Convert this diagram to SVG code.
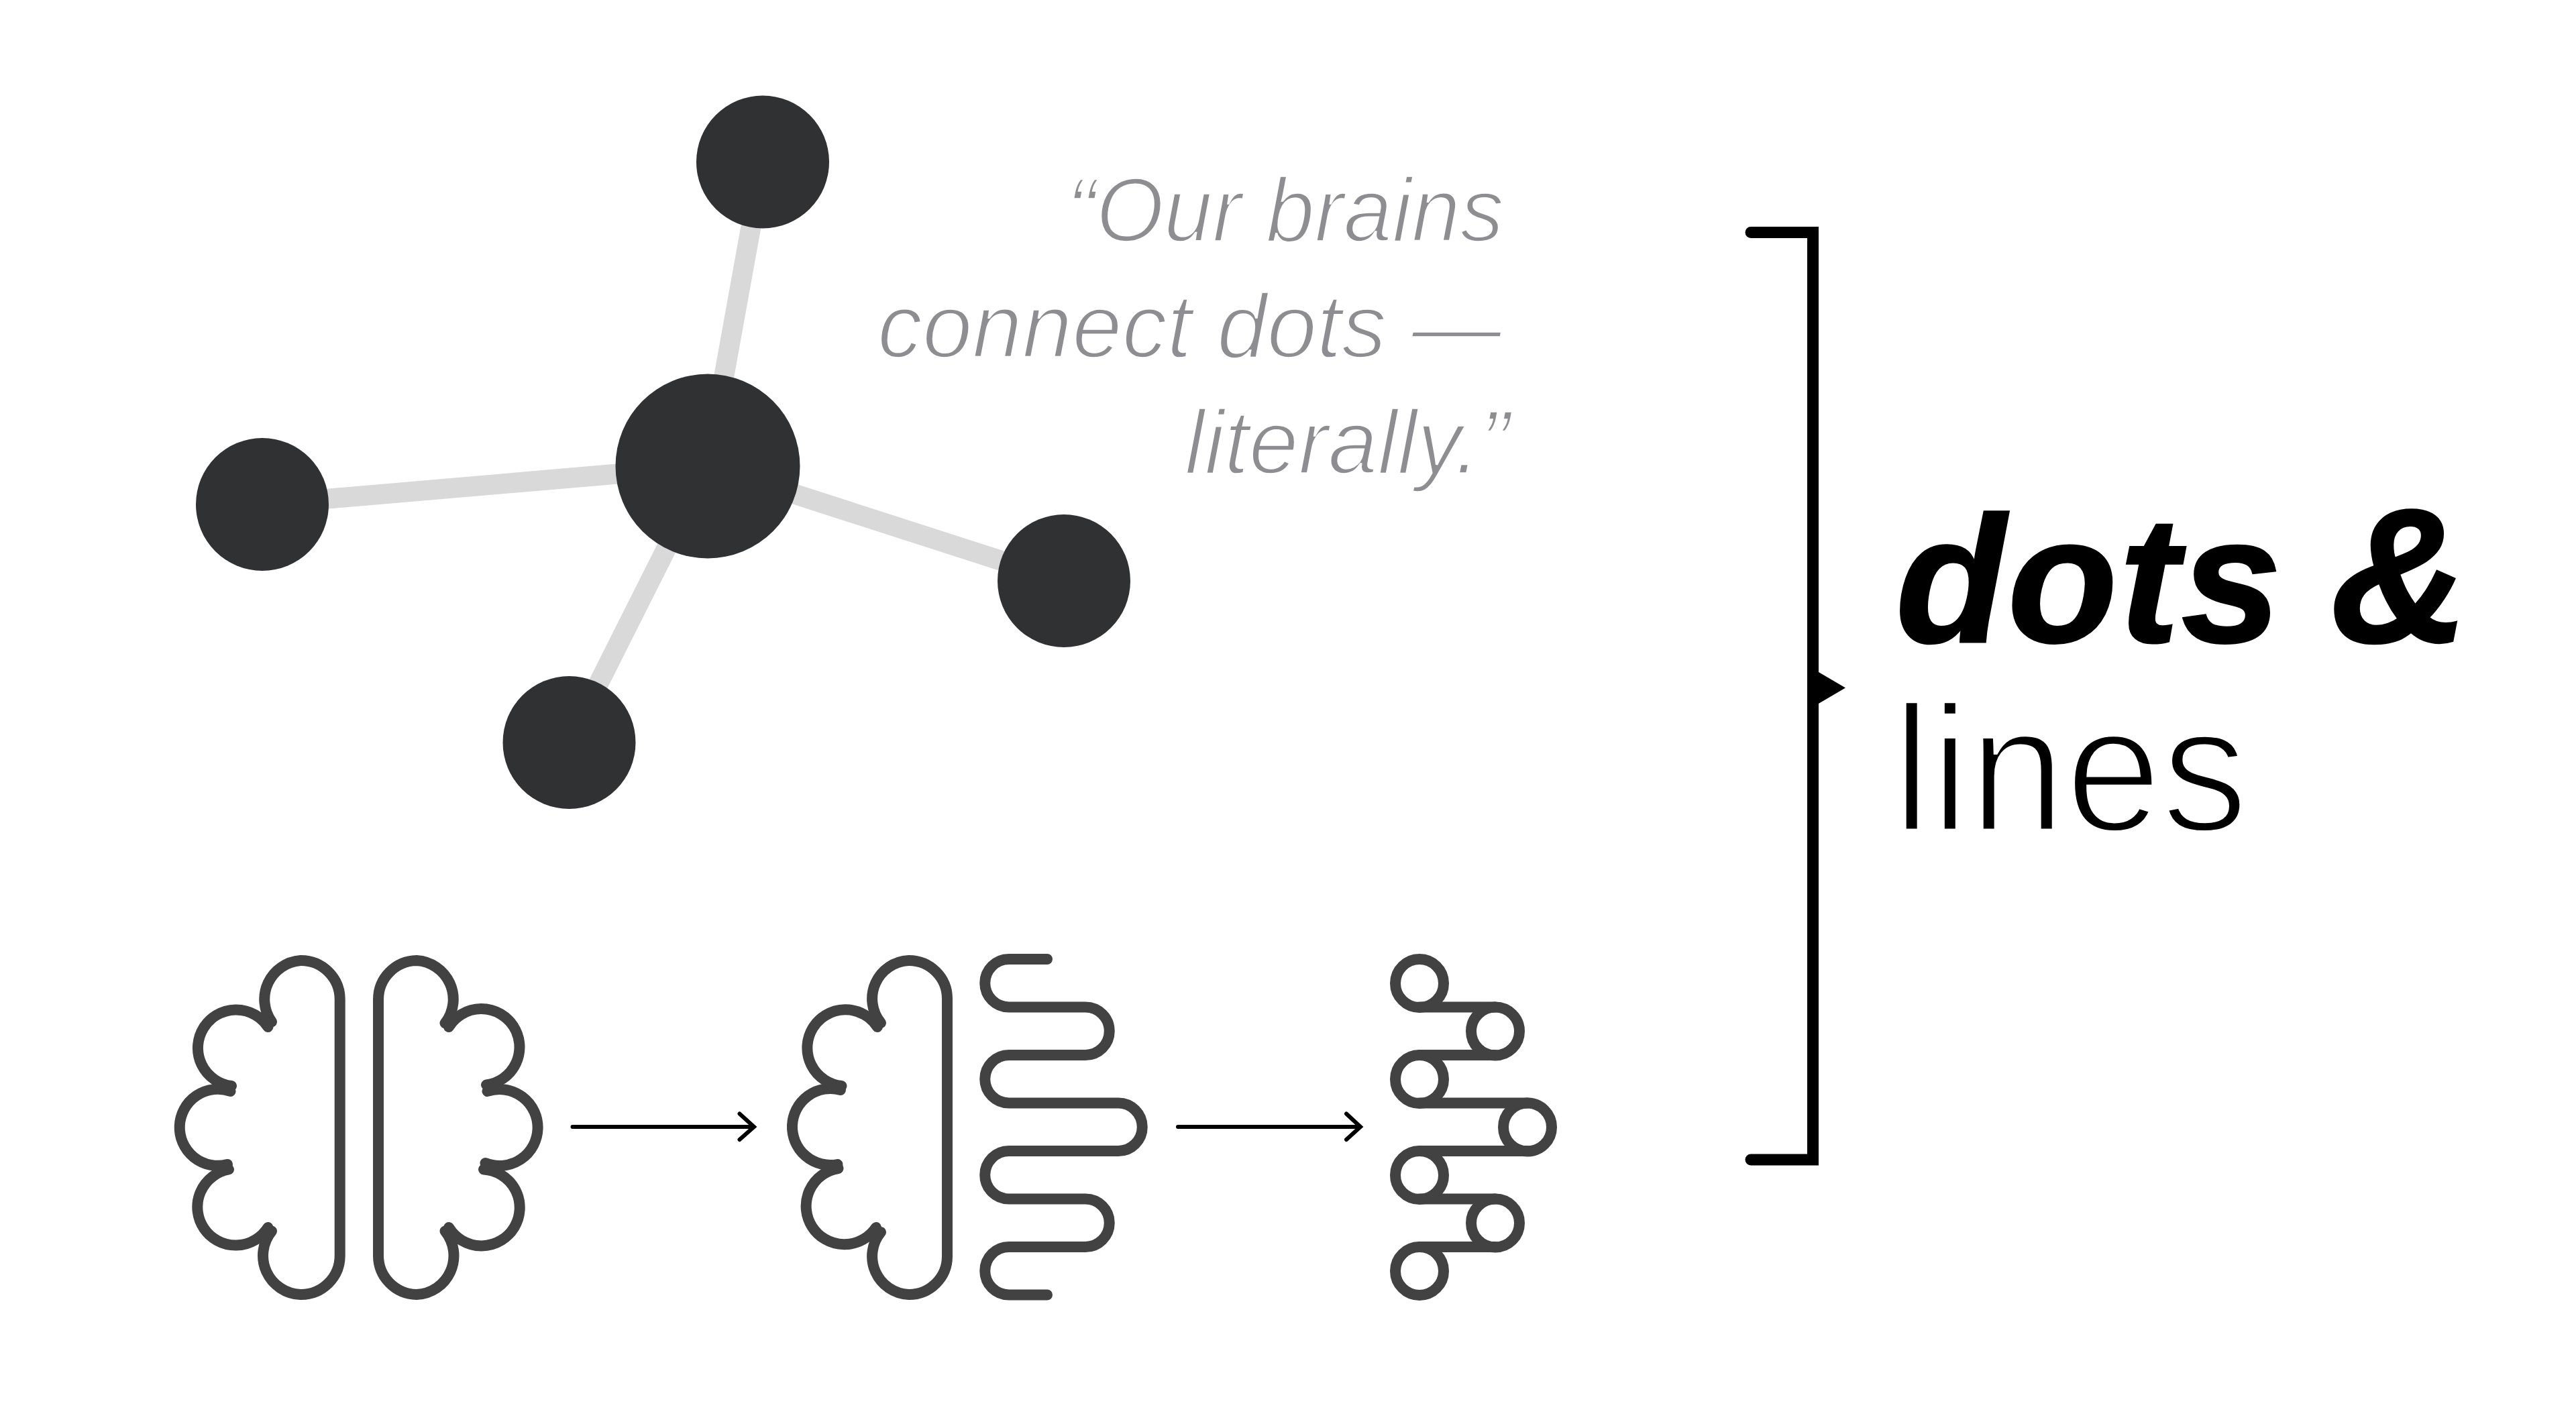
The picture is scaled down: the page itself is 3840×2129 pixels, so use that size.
<svg xmlns="http://www.w3.org/2000/svg" width="3840" height="2129" viewBox="0 0 3840 2129">
<style>
.edge{stroke:#d9d9d9;stroke-width:30;fill:none}
.dot{fill:#303133}
.ic{fill:none;stroke:#424242;stroke-width:16;stroke-linecap:round;stroke-linejoin:round}
.ar{fill:none;stroke:#000;stroke-width:6;stroke-linecap:round;stroke-linejoin:miter}
.q{font-family:"Liberation Sans",Arial,sans-serif;font-style:italic;font-size:136px;fill:#8e8e92;stroke:#fff;stroke-width:3.5px}
.t{font-family:"Liberation Sans",Arial,sans-serif;font-size:268px;fill:#000}
</style>
<rect width="3840" height="2129" fill="#fff"/>
<g id="connectors">
<line class="edge" x1="1055" y1="695" x2="1137" y2="241"/>
<line class="edge" x1="1055" y1="695" x2="391" y2="752"/>
<line class="edge" x1="1055" y1="695" x2="1586" y2="866"/>
<line class="edge" x1="1055" y1="695" x2="848" y2="1107"/>
<path class="ar" d="M853.500 1680H1122M1102.500 1660.500L1124 1680L1102.500 1699"/>
<path class="ar" d="M1756 1680H2026M2007 1660.500L2028 1680L2007 1699"/>
</g>
<g id="dot-top"><circle class="dot" cx="1137" cy="241.500" r="99"/></g>
<g id="dot-center"><circle class="dot" cx="1055" cy="695" r="137.500"/></g>
<g id="dot-left"><circle class="dot" cx="391" cy="752" r="99"/></g>
<g id="dot-right"><circle class="dot" cx="1586" cy="866" r="99"/></g>
<g id="dot-bottom"><circle class="dot" cx="848.500" cy="1107" r="99"/></g>
<g id="quote">
<text class="q" x="1590" y="360" textLength="652" lengthAdjust="spacingAndGlyphs">“Our brains</text>
<text class="q" x="1308" y="533" textLength="930" lengthAdjust="spacingAndGlyphs">connect dots —</text>
<text class="q" x="1766" y="706" textLength="484" lengthAdjust="spacingAndGlyphs">literally.”</text>
</g>
<g id="brain-left">
<path class="ic" d="M405 1523.500A58 58 0 0 1 448 1432A58 58 0 0 1 506.700 1490V1872A58 58 0 0 1 448 1930A58 58 0 0 1 405 1835.500"/>
<path class="ic" d="M399.500 1531A57 57 0 1 0 345 1619"/>
<path class="ic" d="M343.500 1627A57 57 0 1 0 339 1736"/>
<path class="ic" d="M341 1743.500A57 57 0 1 0 399.500 1830"/>
</g>
<g id="brain-right">
<path class="ic" d="M663.500 1525.500A58 58 0 0 0 621 1432A58 58 0 0 0 564 1490V1872A58 58 0 0 0 621 1930A58 58 0 0 0 663.500 1835.500"/>
<path class="ic" d="M669 1531A57 57 0 1 1 725 1617.500"/>
<path class="ic" d="M726.500 1627A57 57 0 1 1 723.500 1734"/>
<path class="ic" d="M721 1743.500A57 57 0 1 1 669 1830"/>
</g>
<g id="brain-half">
<path class="ic" d="M1313 1525A57 57 0 0 1 1354.500 1432A57 57 0 0 1 1412 1489V1873A57 57 0 0 1 1354.500 1930A57 57 0 0 1 1313 1837"/>
<path class="ic" d="M1308 1531A57 57 0 1 0 1254.500 1619"/>
<path class="ic" d="M1253 1625A57 57 0 1 0 1248.500 1736"/>
<path class="ic" d="M1249.500 1742A57 57 0 1 0 1306 1830"/>
</g>
<g id="serpentine">
<path class="ic" d="M1561 1430H1504A35.750 35.750 0 0 0 1504 1501.500H1618A35.750 35.750 0 0 1 1618 1573H1504A35.750 35.750 0 0 0 1504 1644.500H1667A35.750 35.750 0 0 1 1667 1716H1504A35.750 35.750 0 0 0 1504 1787.500H1618A35.750 35.750 0 0 1 1618 1859H1504A35.750 35.750 0 0 0 1504 1930.500H1561"/>
</g>
<g id="network">
<path class="ic" d="M2116 1501.500H2229M2116 1573H2229M2116 1644.500H2277M2116 1716H2277M2116 1787.500H2229M2116 1859H2229"/>
<circle class="ic" cx="2116" cy="1466" r="36"/>
<circle class="ic" cx="2229" cy="1537.500" r="36"/>
<circle class="ic" cx="2116" cy="1609" r="36"/>
<circle class="ic" cx="2277" cy="1680.500" r="36"/>
<circle class="ic" cx="2116" cy="1752" r="36"/>
<circle class="ic" cx="2229" cy="1823.500" r="36"/>
<circle class="ic" cx="2116" cy="1895" r="36"/>
</g>
<g id="bracket">
<path d="M2610 346.500H2702.500V1729H2610" fill="none" stroke="#000" stroke-width="17" stroke-linecap="round" stroke-linejoin="miter"/>
<path d="M2711 1002L2751 1025.500L2711 1049Z" fill="#000"/>
</g>
<g id="title">
<text class="t" x="2826" y="957" font-weight="700" font-style="italic" stroke="#000" stroke-width="3" letter-spacing="3">dots <tspan x="3474" font-size="285">&amp;</tspan></text>
<text class="t" x="2821" y="1239" stroke="#fff" stroke-width="7" textLength="530" lengthAdjust="spacingAndGlyphs">lines</text>
</g>
</svg>
